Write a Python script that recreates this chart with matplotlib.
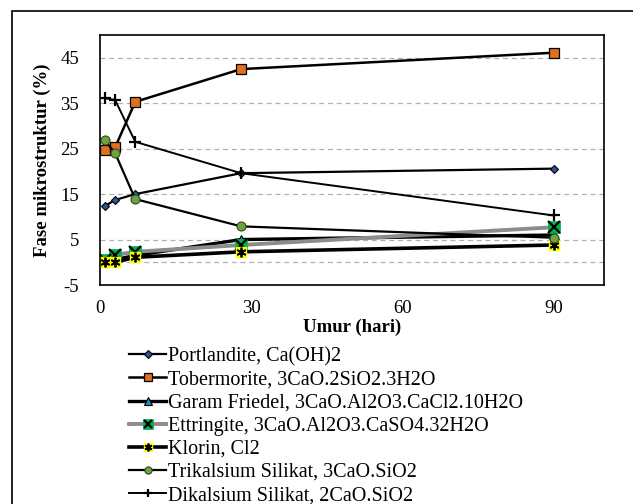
import numpy as np
import matplotlib.pyplot as plt
from matplotlib.patches import Rectangle

plt.rcParams['font.family'] = ['Liberation Serif', 'DejaVu Serif']
plt.rcParams['axes.unicode_minus'] = False

# data (umur in hari, fase in %)
umur = [1, 3, 7, 28, 90]
portlandite = [12.4, 13.7, 15.0, 19.6, 20.6]
tobermorite = [24.8, 25.3, 35.3, 42.5, 46.1]
garam_friedel = [0.2, 0.6, 1.5, 5.0, 6.0]
ettringite = [0.4, 1.6, 2.3, 3.8, 7.7]
klorin = [0.0, 0.0, 1.1, 2.3, 3.8]
trikalsium = [26.8, 24.0, 13.9, 7.9, 5.4]
dikalsium = [36.1, 35.7, 26.5, 19.6, 10.3]

labels = ['Portlandite, Ca(OH)2',
          'Tobermorite, 3CaO.2SiO2.3H2O',
          'Garam Friedel, 3CaO.Al2O3.CaCl2.10H2O',
          'Ettringite, 3CaO.Al2O3.CaSO4.32H2O',
          'Klorin, Cl2',
          'Trikalsium Silikat, 3CaO.SiO2',
          'Dikalsium Silikat, 2CaO.SiO2']

fig = plt.figure(figsize=(6.33, 5.04), dpi=100)
ax = fig.add_axes([100/633, 1-285/504, 504/633, 250/504])

# rangka luar
fig.patches.append(Rectangle((12/633, -0.1), 1.2, 1-11/504+0.1, transform=fig.transFigure,
                             fill=False, ec='black', lw=1.2))

h1, = ax.plot(umur, portlandite, '-', c='black', lw=1.6, marker='D', ms=4.5,
              mfc='#2f5597', mec='black', mew=0.8)
h2, = ax.plot(umur, tobermorite, '-', c='black', lw=1.8, marker='s', ms=7,
              mfc='#e07020', mec='black', mew=0.9)
h3, = ax.plot(umur, garam_friedel, '-', c='black', lw=2.4, marker='^', ms=6.5,
              mfc='#1f8fd0', mec='black', mew=0.8)
h4a, = ax.plot(umur, ettringite, '-', c='#8c8c8c', lw=2.8, marker='s', ms=9,
               mfc='#00b050', mec='#00b050', mew=0.5)
h4b, = ax.plot(umur, ettringite, ls='none', marker='x', ms=8, mec='black', mew=1.6)
h5a, = ax.plot(umur, klorin, '-', c='black', lw=2.6, marker='s', ms=7,
               mfc='#ffff00', mec='#ffff00')
h5b, = ax.plot(umur, klorin, ls='none', marker=(6, 2, 0), ms=7, mec='black', mew=1.3)
h6, = ax.plot(umur, trikalsium, '-', c='black', lw=1.6, marker='o', ms=6.5,
              mfc='#70a040', mec='#2e4a1e', mew=0.8)
h7, = ax.plot(umur, dikalsium, '-', c='black', lw=1.4, marker='+', ms=8,
              mec='black', mew=1.6)

ax.set_xlim(0, 100)
ax.set_ylim(-5, 50)
ax.set_xticks([0, 30, 60, 90])
ax.set_yticks([-5, 5, 15, 25, 35, 45])
ax.tick_params(length=0, labelsize=13.5)
ax.tick_params(axis='y', pad=15)
ax.tick_params(axis='x', pad=11)
for yv in [5, 15, 25, 35, 45, 0]:
    ax.axhline(yv, color='#b0b0b0', ls=(0, (4, 3)), lw=0.9, zorder=0)
for s in ax.spines.values():
    s.set_linewidth(1.2)

ax.set_xlabel('Umur (hari)', fontsize=13.5, fontweight='bold', labelpad=1)
ax.set_ylabel('Fase mikrostruktur (%)', fontsize=13.5, fontweight='bold', labelpad=7)

handles = [h1, h2, h3, (h4a, h4b), (h5a, h5b), h6, h7]
fig.legend(handles, labels, loc='upper left', bbox_to_anchor=(121/633, 1-339/504),
           frameon=False, fontsize=14.5, handlelength=1.85, handletextpad=0.1,
           labelspacing=0.2, borderaxespad=0, markerscale=0.8)

fig.savefig('out.png', dpi=100)
